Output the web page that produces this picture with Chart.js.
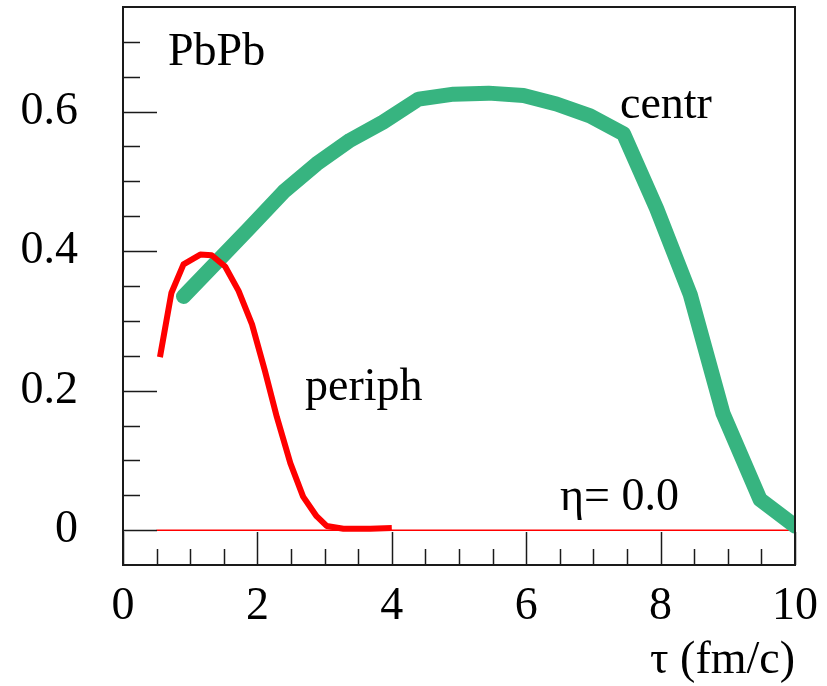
<!DOCTYPE html>
<html>
<head>
<meta charset="utf-8">
<script src="https://cdn.jsdelivr.net/npm/chart.js@4/dist/chart.umd.min.js"></script>
<style>
  html, body { margin: 0; padding: 0; background: #fff; }
  #wrap { width: 827px; height: 686px; }
</style>
</head>
<body>
<div id="wrap"><canvas id="c" width="827" height="686"></canvas></div>
<script>
// ---- data ----
const centrX = [0.90, 1.42, 1.88, 2.39, 2.88, 3.38, 3.87, 4.40, 4.92, 5.44, 5.96, 6.45, 6.95, 7.45, 7.94, 8.44, 8.93, 9.48, 10.0];
const centrY = [0.335, 0.387, 0.433, 0.485, 0.525, 0.559, 0.585, 0.618, 0.625, 0.6265, 0.623, 0.611, 0.594, 0.568, 0.461, 0.338, 0.167, 0.044, 0.006];
const periphX = [0.55, 0.72, 0.90, 1.15, 1.32, 1.52, 1.72, 1.92, 2.11, 2.29, 2.49, 2.68, 2.88, 3.03, 3.28, 3.68, 4.0];
const periphY = [0.248, 0.340, 0.381, 0.395, 0.394, 0.378, 0.343, 0.295, 0.229, 0.162, 0.096, 0.048, 0.020, 0.006, 0.002, 0.002, 0.003];
const zeroLineX = [0.5, 10.0];
const zeroLineY = [0, 0];
const xTickValues = [0, 2, 4, 6, 8, 10];
const xTickLabels = ['0', '2', '4', '6', '8', '10'];
const yTickValues = [0, 0.2, 0.4, 0.6];
const yTickLabels = ['0', '0.2', '0.4', '0.6'];
const xTitle = 'τ (fm/c)';
const annotations = [
  { text: 'PbPb', px: 168, py: 65 },
  { text: 'centr', px: 620, py: 118 },
  { text: 'periph', px: 305, py: 400 },
  { text: 'η= 0.0', px: 560, py: 510 }
];

const pts = (xs, ys) => xs.map((x, i) => ({ x: x, y: ys[i] }));
const FONT = 'Liberation Serif';
Chart.defaults.font.family = FONT;
Chart.defaults.color = '#000';

const frameAndTicks = {
  id: 'frameAndTicks',
  afterDatasetsDraw(chart) {
    const { ctx, chartArea: a, scales } = chart;
    const xs = scales.x, ys = scales.y;
    ctx.save();
    ctx.strokeStyle = '#1a1a1a';
    // x ticks (inside, pointing up)
    for (let k = 0; k <= 20; k++) {
      const v = k * 0.5;
      const major = (k % 4 === 0);
      const px = Math.round(xs.getPixelForValue(v)) + 0.5;
      ctx.lineWidth = 1.5;
      ctx.beginPath();
      ctx.moveTo(px, a.bottom);
      ctx.lineTo(px, a.bottom - (major ? 33 : 16));
      ctx.stroke();
    }
    // y ticks (inside, pointing right)
    for (let k = -1; k <= 15; k++) {
      const v = k * 0.05;
      const major = (k % 4 === 0);
      const py = Math.round(ys.getPixelForValue(v)) + 0.5;
      if (py < a.top + 1 || py > a.bottom - 1) continue;
      ctx.lineWidth = 1.5;
      ctx.beginPath();
      ctx.moveTo(a.left, py);
      ctx.lineTo(a.left + (major ? 34 : 17), py);
      ctx.stroke();
    }
    // frame
    ctx.lineWidth = 2;
    ctx.strokeRect(a.left, a.top, a.right - a.left, a.bottom - a.top);
    // annotations
    ctx.fillStyle = '#000';
    ctx.font = '46px "' + FONT + '"';
    ctx.textBaseline = 'alphabetic';
    ctx.textAlign = 'left';
    annotations.forEach(t => ctx.fillText(t.text, t.px, t.py));
    ctx.restore();
  }
};

new Chart(document.getElementById('c'), {
  type: 'line',
  data: {
    datasets: [
      {
        label: 'periph',
        data: pts(periphX, periphY),
        borderColor: '#ff0000',
        borderWidth: 6,
        borderCapStyle: 'butt',
        borderJoinStyle: 'round',
        pointRadius: 0,
        tension: 0,
        fill: false
      },
      {
        label: 'centr',
        data: pts(centrX, centrY),
        borderColor: '#37b480',
        borderWidth: 15,
        borderCapStyle: 'round',
        borderJoinStyle: 'round',
        pointRadius: 0,
        tension: 0,
        fill: false
      },
      {
        label: 'zero',
        data: pts(zeroLineX, zeroLineY),
        borderColor: '#ff0000',
        borderWidth: 1.5,
        pointRadius: 0,
        tension: 0,
        fill: false
      }
    ]
  },
  options: {
    responsive: false,
    animation: false,
    events: [],
    layout: { padding: { left: 0, right: 32, top: 7, bottom: 0 } },
    plugins: { legend: { display: false }, tooltip: { enabled: false }, title: { display: false } },
    scales: {
      x: {
        type: 'linear',
        min: 0, max: 10,
        grid: { display: false, drawTicks: false },
        border: { display: false },
        afterBuildTicks: s => { s.ticks = xTickValues.map(v => ({ value: v })); },
        afterFit: s => { s.height = 121; s.paddingLeft = 0; s.paddingRight = 0; },
        ticks: {
          padding: 14,
          font: { size: 46, family: FONT },
          color: '#000',
          maxRotation: 0,
          autoSkip: false,
          callback: (v) => { const i = xTickValues.indexOf(v); return i >= 0 ? xTickLabels[i] : ''; }
        },
        title: {
          display: true,
          text: xTitle,
          align: 'end',
          color: '#000',
          font: { size: 46, family: FONT },
          padding: { top: 0, bottom: -3 }
        }
      },
      y: {
        type: 'linear',
        min: -0.05, max: 0.75,
        grid: { display: false, drawTicks: false },
        border: { display: false },
        afterBuildTicks: s => { s.ticks = yTickValues.map(v => ({ value: v })); },
        afterFit: s => { s.width = 123; s.paddingTop = 0; s.paddingBottom = 0; },
        ticks: {
          padding: 45,
          font: { size: 46, family: FONT },
          color: '#000',
          autoSkip: false,
          callback: (v) => { const i = yTickValues.indexOf(v); return i >= 0 ? yTickLabels[i] : ''; }
        }
      }
    }
  },
  plugins: [frameAndTicks]
});
</script>
</body>
</html>
